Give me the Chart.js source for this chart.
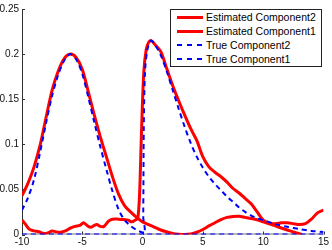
<!DOCTYPE html>
<html>
<head>
<meta charset="utf-8">
<script src="https://cdn.jsdelivr.net/npm/chart.js@4/dist/chart.umd.min.js"></script>
<style>
  html, body { margin: 0; padding: 0; background: #fff; }
  #wrap { position: relative; width: 332px; height: 250px; }
  #legend {
    position: absolute; left: 170px; top: 9px; width: 150px; height: 56px;
    border: 1px solid #222; background: #fff;
    font-family: "Liberation Sans", Arial, sans-serif; font-size: 10.5px; color: #000;
  }
  .row { position: relative; height: 14px; line-height: 14px; }
  .sample { position: absolute; left: 6px; width: 26px; }
  .solid { top: 6px; height: 3px; background: #ff0000; }
  .dash { top: 6px; height: 2px; background: repeating-linear-gradient(to right, #0000ff 0 5px, transparent 5px 10px); }
  .lab { position: absolute; left: 35px; top: 0; white-space: nowrap; }
</style>
</head>
<body>
<div id="wrap">
  <canvas id="c" width="332" height="250"></canvas>
  <div id="legend"></div>
</div>
<script>
// ---- data ----
const xTicks = [-10, -5, 0, 5, 10, 15];
const yTicks = [0, 0.05, 0.1, 0.15, 0.2, 0.25];

const seriesNames = ["Estimated Component2", "Estimated Component1", "True Component2", "True Component1"];

const est2X = [-10, -9.75, -9.4, -9, -8.6, -8.2, -7.8, -7.5, -7.2, -6.8, -6.4, -6, -5.6, -5.2, -4.9, -4.6, -4.3, -4, -3.8, -3.5, -3.2, -2.8, -2.5, -2, -1.5, -1.2, -0.9, -0.6, -0.4, -0.25, -0.1, 0.1, 0.3, 0.5, 0.7, 1, 1.5, 2, 2.5, 3, 3.5, 4, 4.5, 5, 5.5, 6, 6.5, 7, 7.5, 8, 8.5, 9, 9.5, 10, 10.5, 11, 11.5, 12, 12.5, 13, 13.5, 14, 14.5, 15];
const est2Y = [0.016, 0.012, 0.006, 0.004, 0.003, 0.001, 0.002, 0.004, 0.003, 0.0025, 0.004, 0.007, 0.009, 0.010, 0.013, 0.010, 0.008, 0.010, 0.011, 0.009, 0.009, 0.015, 0.017, 0.017, 0.0165, 0.016, 0.014, 0.016, 0.018, 0.045, 0.11, 0.18, 0.205, 0.213, 0.215, 0.211, 0.203, 0.184, 0.165, 0.148, 0.132, 0.117, 0.104, 0.086, 0.075, 0.069, 0.064, 0.058, 0.051, 0.046, 0.040, 0.034, 0.025, 0.016, 0.0125, 0.012, 0.013, 0.013, 0.012, 0.011, 0.012, 0.017, 0.024, 0.027];

const est1X = [-10, -9.5, -9, -8.5, -8, -7.5, -7, -6.5, -6, -5.5, -5, -4.5, -4, -3.5, -3, -2.5, -2, -1.5, -1, -0.5, 0, 0.5, 1, 1.5, 2, 2.5, 3, 3.5, 4, 4.5, 5, 5.5, 6, 6.5, 7, 7.5, 8, 8.5, 9, 9.5, 10, 10.5, 11, 11.5, 12, 12.5, 13, 13.2];
const est1Y = [0.043, 0.057, 0.075, 0.099, 0.130, 0.160, 0.181, 0.195, 0.200, 0.196, 0.183, 0.158, 0.132, 0.108, 0.086, 0.064, 0.045, 0.032, 0.025, 0.019, 0.014, 0.011, 0.008, 0.005, 0.003, 0.0012, 0.0003, 0.0, 0.0006, 0.0025, 0.0055, 0.0095, 0.013, 0.0165, 0.019, 0.020, 0.0202, 0.019, 0.0178, 0.0163, 0.014, 0.0118, 0.0095, 0.0072, 0.005, 0.0028, 0.0008, 0.0];

const true2X = [-10, 0, 0.05, 0.1, 0.2, 0.4, 0.7, 1, 1.5, 2, 2.5, 3, 3.5, 4, 4.5, 5, 5.5, 6, 6.5, 7, 7.5, 8, 8.5, 9, 9.5, 10, 11, 12, 13, 14, 15];
const true2Y = [0, 0, 0.02, 0.12, 0.18, 0.205, 0.215, 0.211, 0.199, 0.181, 0.160, 0.139, 0.119, 0.101, 0.086, 0.074, 0.064, 0.056, 0.049, 0.042, 0.036, 0.030, 0.025, 0.021, 0.018, 0.016, 0.0115, 0.0085, 0.006, 0.004, 0.0027];

const true1X = [-10, -9.5, -9, -8.5, -8, -7.5, -7, -6.5, -6, -5.5, -5, -4.5, -4, -3.5, -3, -2.5, -2, -1.5, -1, -0.5, 0, 0.3, 15];
const true1Y = [0.027, 0.041, 0.061, 0.091, 0.124, 0.154, 0.177, 0.193, 0.200, 0.194, 0.178, 0.152, 0.124, 0.097, 0.072, 0.048, 0.028, 0.016, 0.0095, 0.005, 0.002, 0, 0];

const pts = (xs, ys) => xs.map((x, i) => ({ x: x, y: ys[i] }));

const FONT = '"Liberation Sans", Arial, sans-serif';

const axesPlugin = {
  id: 'matlabAxes',
  beforeDatasetsDraw(chart) {
    const { ctx, chartArea: a, scales } = chart;
    ctx.save();
    ctx.lineWidth = 1;
    ctx.strokeStyle = '#777';
    ctx.beginPath();
    ctx.moveTo(a.left, a.bottom - 0.5);
    ctx.lineTo(a.right, a.bottom - 0.5);
    ctx.stroke();
    ctx.strokeStyle = '#333';
    ctx.beginPath();
    ctx.moveTo(a.left + 0.5, a.top);
    ctx.lineTo(a.left + 0.5, a.bottom);
    ctx.stroke();
    ctx.beginPath();
    scales.x.ticks.forEach(t => {
      const px = Math.round(scales.x.getPixelForValue(t.value)) + 0.5;
      ctx.moveTo(px, a.bottom);
      ctx.lineTo(px, a.bottom - 3);
    });
    scales.y.ticks.forEach(t => {
      const py = Math.round(scales.y.getPixelForValue(t.value)) + 0.5;
      ctx.moveTo(a.left, py);
      ctx.lineTo(a.left + 3, py);
    });
    ctx.stroke();
    ctx.restore();
  }
};

const blueDash = [5, 4];

new Chart(document.getElementById('c'), {
  type: 'line',
  data: {
    datasets: [
      { label: seriesNames[3], data: pts(true1X, true1Y), borderColor: '#0000ff', borderWidth: 2, borderDash: blueDash },
      { label: seriesNames[2], data: pts(true2X, true2Y), borderColor: '#0000ff', borderWidth: 2, borderDash: blueDash },
      { label: seriesNames[1], data: pts(est1X, est1Y), borderColor: '#ff0000', borderWidth: 3 },
      { label: seriesNames[0], data: pts(est2X, est2Y), borderColor: '#ff0000', borderWidth: 3 }
    ]
  },
  options: {
    responsive: false,
    animation: false,
    layout: { padding: { left: 0, right: 8.5, top: 5.5, bottom: 0 } },
    elements: {
      point: { radius: 0 },
      line: { tension: 0.3, fill: false, borderCapStyle: 'butt', borderJoinStyle: 'round' }
    },
    plugins: { legend: { display: false }, tooltip: { enabled: false } },
    scales: {
      x: {
        type: 'linear', min: -10, max: 15,
        afterBuildTicks(s) { s.ticks = xTicks.map(v => ({ value: v })); },
        ticks: { font: { family: FONT, size: 10 }, color: '#111', padding: 2, maxRotation: 0, autoSkip: false,
                 callback: v => String(v) },
        grid: { display: false, drawTicks: false },
        border: { display: false },
        afterFit(s) { s.height = 15.5; }
      },
      y: {
        type: 'linear', min: 0, max: 0.25,
        afterBuildTicks(s) { s.ticks = yTicks.map(v => ({ value: v })); },
        ticks: { font: { family: FONT, size: 10 }, color: '#111', padding: 3, autoSkip: false,
                 callback: v => String(parseFloat(Number(v).toFixed(2))) },
        grid: { display: false, drawTicks: false },
        border: { display: false },
        afterFit(s) { s.width = 22; }
      }
    }
  },
  plugins: [axesPlugin]
});

const legend = document.getElementById('legend');
const styles = ['solid', 'solid', 'dash', 'dash'];
seriesNames.forEach((n, i) => {
  const r = document.createElement('div');
  r.className = 'row';
  r.innerHTML = '<span class="sample ' + styles[i] + '"></span><span class="lab"></span>';
  r.querySelector('.lab').textContent = n;
  legend.appendChild(r);
});
</script>
</body>
</html>
